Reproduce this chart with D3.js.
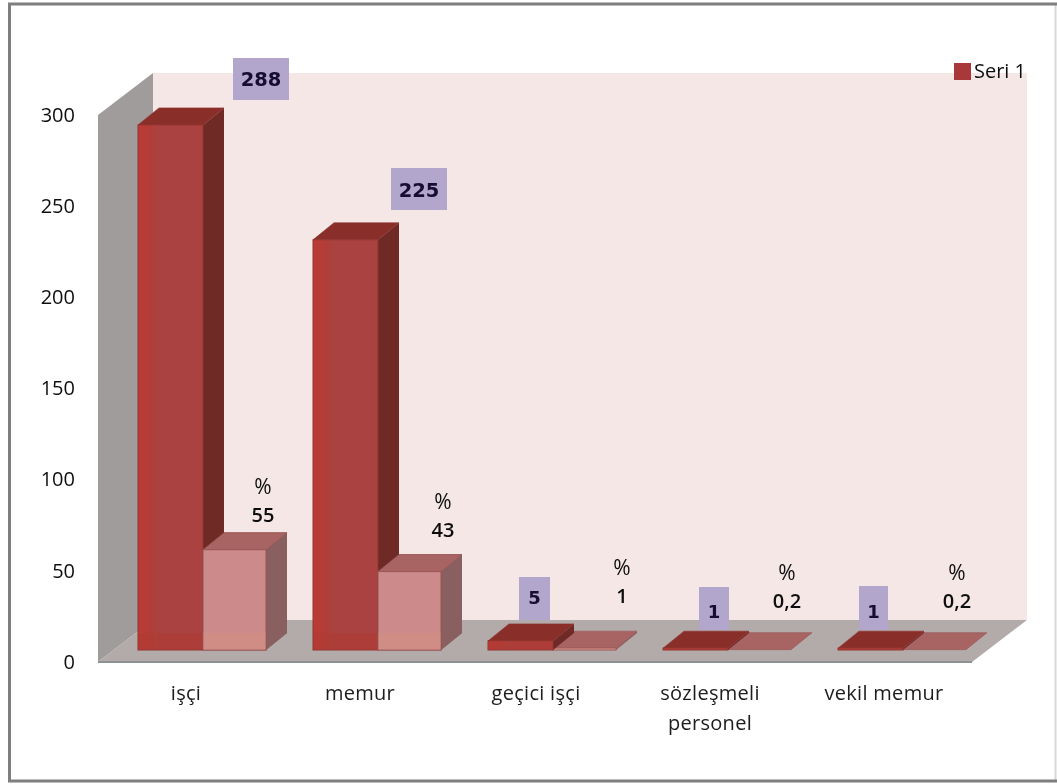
<!DOCTYPE html>
<html><head><meta charset="utf-8">
<script src="https://cdn.jsdelivr.net/npm/d3@7"></script>
<style>html,body{margin:0;padding:0;background:#fff}svg{display:block}text{font-family:"Open Sans",sans-serif}</style>
</head><body><svg id="c" width="1057" height="784"></svg>
<script>
const categories=["işçi","memur","geçici işçi","sözleşmeli personel","vekil memur"];
const counts=[288,225,5,1,1];
const percents=[55,43,1,0.2,0.2];
const countLabels=["288","225","5","1","1"];
const percentLabels=["55","43","1","0,2","0,2"];
const yTicks=[0,50,100,150,200,250,300];
const seriesName="Seri 1";

const svg=d3.select("#c");
const defs=svg.append("defs");
defs.append("filter").attr("id","soft").append("feGaussianBlur").attr("stdDeviation",0.45);
const lg=defs.append("linearGradient").attr("id","barFace");
[[0,"#bb3a34"],[0.2,"#b23d38"],[0.3,"#a9423f"],[1,"#a9423f"]].forEach(d=>lg.append("stop").attr("offset",d[0]).attr("stop-color",d[1]));

const y=d3.scaleLinear().domain([0,300]).range([660,113]);
const x=d3.scaleBand().domain(categories).range([138,1013]);
const dx=21,dy=-17;           // bar depth
const wallDx=55,wallDy=-42;   // chart depth
const baseY=650;              // bars stand on the floor, above the front edge
const lift=y(0)-baseY;
const barW=[65,63];
const pts=a=>a.map(p=>p.join(",")).join(" ");

const g=svg.append("g").attr("filter","url(#soft)");
// frame: left, top and bottom are strong, the right side is nearly cut off
g.append("line").attr("x1",1055.5).attr("x2",1055.5).attr("y1",3).attr("y2",781).attr("stroke","#d8d8d8").attr("stroke-width",2);
g.append("path").attr("d","M1057,4 H9.5 V781 H1057").attr("fill","none").attr("stroke","#7f7f7f").attr("stroke-width",3);

// back wall, side wall, floor
const L=98,R=972,front=y(0)+2,wallTop=y(300)+2;
g.append("polygon").attr("points",pts([[L+wallDx,wallTop+wallDy],[R+wallDx,wallTop+wallDy],[R+wallDx,front+wallDy],[L+wallDx,front+wallDy]])).attr("fill","#f5e7e6");
g.append("polygon").attr("points",pts([[L,wallTop],[L+wallDx,wallTop+wallDy],[L+wallDx,front+wallDy],[L,front]])).attr("fill","#a09c9c");
g.append("polygon").attr("points",pts([[L,front],[L+wallDx,front+wallDy],[R+wallDx,front+wallDy],[R,front]])).attr("fill","#b3aaaa");
g.append("line").attr("x1",L).attr("x2",R).attr("y1",front).attr("y2",front).attr("stroke","#8d9395").attr("stroke-width",2);

function bar(x0,w,v,cols){
  const yb=baseY, yt=y(v)-lift, b=g.append("g"), tall=yb-yt>0.5;
  if(tall) b.append("polygon").attr("points",pts([[x0+w,yb],[x0+w+dx,yb+dy],[x0+w+dx,yt+dy],[x0+w,yt]])).attr("fill",cols.side);
  b.append("polygon").attr("points",pts([[x0,yt],[x0+dx,yt+dy],[x0+w+dx,yt+dy],[x0+w,yt]])).attr("fill",cols.top).attr("stroke",cols.edge).attr("stroke-width",0.6);
  if(tall){
    b.append("rect").attr("x",x0).attr("y",yt).attr("width",w).attr("height",yb-yt).attr("fill",cols.face).attr("stroke",cols.edge).attr("stroke-width",1);
    const band=Math.min(17,yb-yt);
    b.append("rect").attr("x",x0+0.5).attr("y",yb-band).attr("width",w-1).attr("height",band-0.5).attr("fill",cols.band).attr("opacity",0.6);
  }
}
const colA={face:"url(#barFace)",top:"#8a2d29",side:"#702a26",edge:"#8f3431",band:"#b03a33"};
const colB={face:"#cd8a8a",top:"#a86464",side:"#8a5f5f",edge:"#9a5555",band:"#d08f84"};
categories.forEach((c,i)=>{
  bar(x(c)+barW[0],barW[1],percents[i],colB);
  bar(x(c),barW[0],counts[i],colA);
});
categories.forEach((c,i)=>{ if(percents[i]>5) bar(x(c)+barW[0],barW[1],percents[i],colB); });

// y axis labels
const axis=g.append("g").attr("transform",`translate(${L-23},1)`).call(d3.axisLeft(y).tickValues(yTicks).tickSize(0).tickPadding(0));
axis.select(".domain").remove();
axis.selectAll("text").attr("font-size",20).attr("fill","#111").attr("dy","0.36em").style("font-family",'"Open Sans",sans-serif');

// category labels
const catLines=categories.map(c=>c==="sözleşmeli personel"?["sözleşmeli","personel"]:[c]);
const catCentre=[186,360,536,710,884];
categories.forEach((c,i)=>{
  const t=g.append("text").attr("text-anchor","middle").attr("font-size",20).attr("letter-spacing",0.3).attr("fill","#1c1c1c");
  catLines[i].forEach((l,k)=>t.append("tspan").attr("x",catCentre[i]).attr("y",700+k*30).text(l));
});

// count labels in purple boxes
const countBox=[[233,58,56,42],[391,168,56,42],[519,577,31,43],[699,587,30,43],[859,586,29,44]];
const countTextY=[86,197,604,618,618];
countBox.forEach((b,i)=>{
  g.append("rect").attr("x",b[0]).attr("y",b[1]).attr("width",b[2]).attr("height",b[3]).attr("fill","#b3a6cc");
  g.append("text").attr("x",b[0]+b[2]/2).attr("y",countTextY[i]).attr("text-anchor","middle").attr("font-size",i<2?19.5:18).attr("font-weight","bold").attr("fill","#150c30").style("font-family",'"DejaVu Sans",sans-serif').text(countLabels[i]);
});

// percent labels
const pctPos=[[263,486],[443,501],[622,567],[787,572],[957,572]];
pctPos.forEach((p,i)=>{
  g.append("text").attr("x",p[0]).attr("y",p[1]+8).attr("text-anchor","middle").attr("font-size",21).attr("fill","#111").text("%");
  g.append("text").attr("x",p[0]).attr("y",p[1]+36).attr("text-anchor","middle").attr("font-size",20).attr("font-weight","600").attr("fill","#111").text(percentLabels[i]);
});

// legend
g.append("rect").attr("x",954).attr("y",63).attr("width",17).attr("height",17).attr("fill","#a9383a");
g.append("text").attr("x",974).attr("y",78).attr("font-size",20).attr("fill","#111").text(seriesName);
</script></body></html>
